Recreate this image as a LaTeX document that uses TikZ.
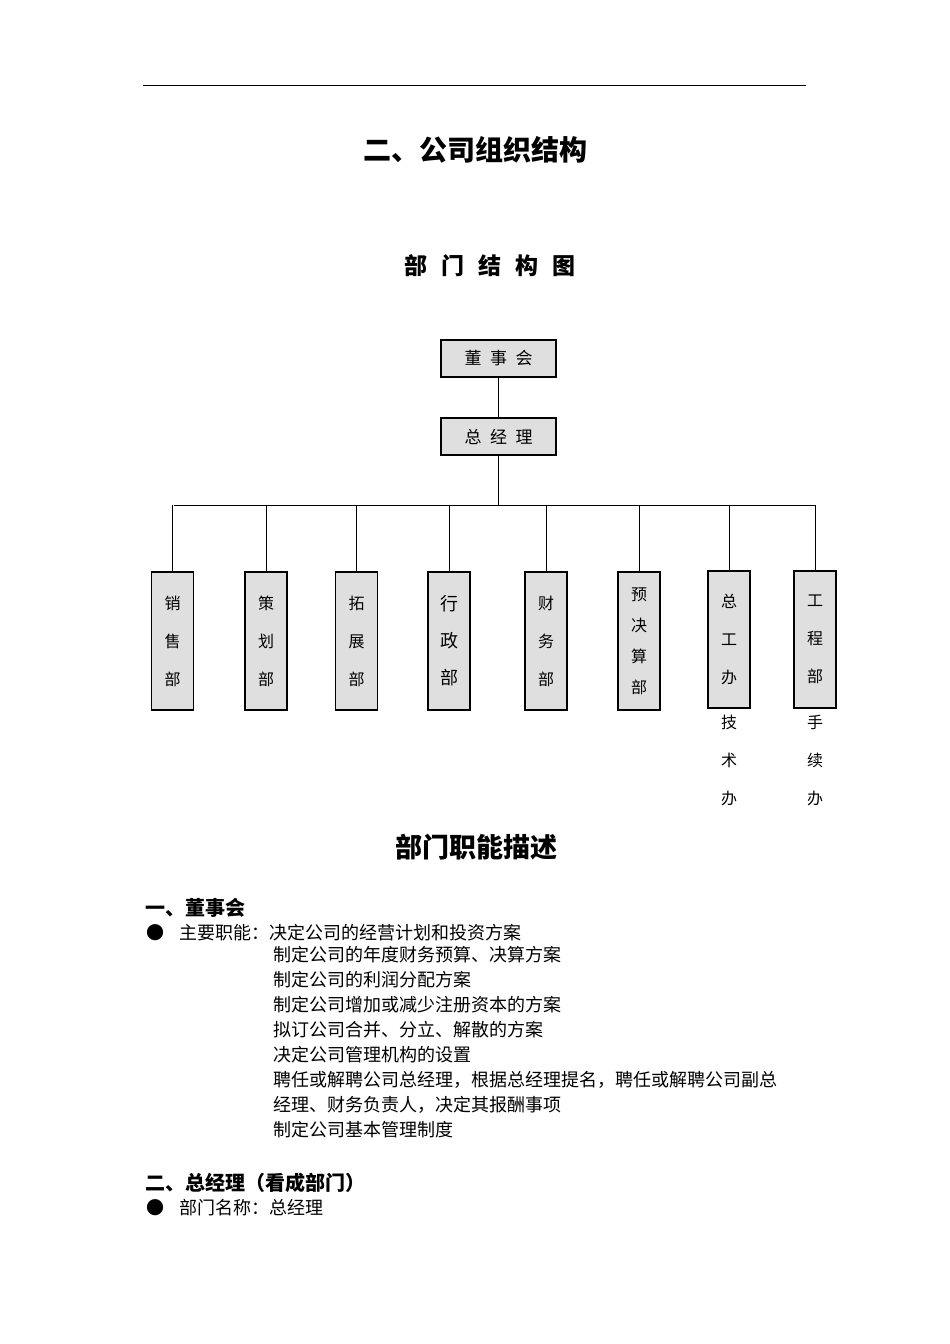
\documentclass[tikz,border=0pt]{standalone}
\usepackage{fontspec}
\setmainfont{Noto Sans CJK SC}
\begin{document}
\begin{tikzpicture}[x=1pt,y=-1pt,
 box/.style={draw,fill=gray!25,line width=1.1pt,inner sep=0pt},
 ln/.style={line width=0.8pt},
 body/.style={anchor=west,inner sep=0pt,font=\fontsize{18}{25}\selectfont},
 vt/.style={font=\fontsize{16}{38}\selectfont,align=center,inner sep=0pt}]
\useasboundingbox (0,0) rectangle (950,1344);
\draw[ln] (143,85) -- (806,85);
\node[font=\fontsize{28}{30}\selectfont\bfseries] (t1) at (475,150) {二、公司组织结构};
\node[font=\fontsize{23}{25}\selectfont\bfseries] (t2) at (490,266) {部\hspace{0.6em}门\hspace{0.6em}结\hspace{0.6em}构\hspace{0.6em}图};
\node[box,minimum width=115,minimum height=37,font=\fontsize{17}{20}\selectfont] (dsh) at (498.5,358.5) {董\hspace{0.5em}事\hspace{0.5em}会};
\node[box,minimum width=115,minimum height=37,font=\fontsize{17}{20}\selectfont] (zjl) at (498.5,436.5) {总\hspace{0.5em}经\hspace{0.5em}理};
\coordinate (j) at (498.5,505);
\draw[ln] (dsh) -- (zjl);
\draw[ln] (zjl) -- (j);
\draw[ln] (174,505) -- (815,505);
\foreach \n/\x/\t/\ty/\h in {a/172.5/销\\售\\部/641/138, b/266/策\\划\\部/641/138, c/356.5/拓\\展\\部/641/138, d/449/行\\政\\部/641/138, e/546/财\\务\\部/641/138, f/639/预\\决\\算\\部/641/138, g/729/总\\工\\办/639.5/137, h/815/工\\程\\部/639.5/137}{
 \node[box,minimum width=42,minimum height=\h] (\n) at (\x,\ty) {};
 \coordinate (\n top) at (\x,505);
 \draw[ln] (\n top) -- (\n.north);
}
\node[vt] (ta) at (a) {销\\售\\部};
\node[vt] (tb) at (b) {策\\划\\部};
\node[vt] (tc) at (c) {拓\\展\\部};
\node[vt,font=\fontsize{18}{37}\selectfont] (td) at (d) {行\\政\\部};
\node[vt] (te) at (e) {财\\务\\部};
\node[vt,font=\fontsize{16}{31}\selectfont] (tf) at (f) {预\\决\\算\\部};
\node[vt] (tg) at (g) {总\\工\\办};
\node[vt] (th) at (h) {工\\程\\部};
\node[vt] (xg) at (729,760) {技\\术\\办};
\node[vt] (xh) at (815,760) {手\\续\\办};
\node[font=\fontsize{27}{30}\selectfont\bfseries] (t3) at (476,847) {部门职能描述};
\node[body,font=\fontsize{20}{22}\selectfont\bfseries] (h1) at (145,908) {一、董事会};
\node[body] (b1) at (146,933) {●};
\node[body] (l1) at (179,933) {主要职能：决定公司的经营计划和投资方案};
\node[body,align=left,anchor=north west] (l2) at (273,946) {制定公司的年度财务预算、决算方案\\制定公司的利润分配方案\\制定公司增加或减少注册资本的方案\\拟订公司合并、分立、解散的方案\\决定公司管理机构的设置\\聘任或解聘公司总经理，根据总经理提名，聘任或解聘公司副总\\经理、财务负责人，决定其报酬事项\\制定公司基本管理制度};
\node[body,font=\fontsize{20}{22}\selectfont\bfseries] (h2) at (145,1183) {二、总经理（看成部门）};
\node[body] (b2) at (146,1208) {●};
\node[body] (l3) at (179,1208) {部门名称：总经理};
\end{tikzpicture}
\end{document}
